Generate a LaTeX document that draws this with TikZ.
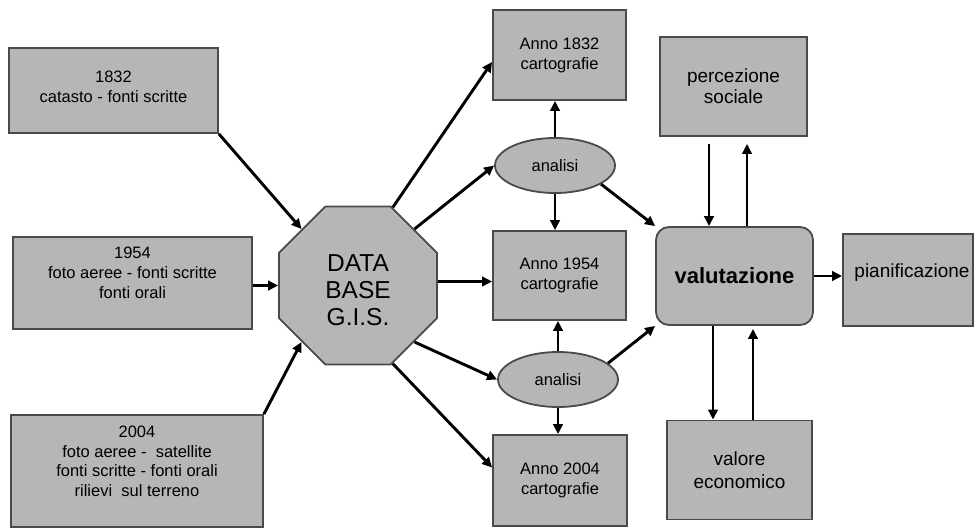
\documentclass[tikz,border=0pt]{standalone}
\usepackage{fontspec}
\setmainfont{Liberation Sans}
\usetikzlibrary{shapes.geometric,arrows.meta}
\definecolor{boxfill}{HTML}{B6B6B6}
\definecolor{boxline}{HTML}{4A4A4A}
\begin{document}
\begin{tikzpicture}[x=1pt,y=-1pt,
  box/.style={draw=boxline,fill=boxfill,line width=1.8pt,inner sep=0pt,align=center,
    font=\fontsize{16.5}{20}\selectfont},
  txt/.style={inner sep=0pt,align=center,font=\fontsize{16.5}{20}\selectfont},
  oval/.style={ellipse,draw=boxline,fill=boxfill,line width=1.8pt,inner sep=0pt,
    minimum width=120pt,minimum height=55pt,font=\fontsize{16.5}{20}\selectfont},
  arr/.style={line width=2.9pt,-{Triangle[length=10pt,width=9.5pt]}}]
\useasboundingbox (0,0) rectangle (977,528);
\fill[white] (0,0) rectangle (977,528);
% left source boxes
\node[box,minimum width=209pt,minimum height=85pt] (b1832) at (113.5,90.5) {};
\node[txt] (t1832) at (113.5,87) {1832\\catasto - fonti scritte};
\node[box,minimum width=239pt,minimum height=92pt] (b1954) at (132.5,283) {};
\node[txt] (t1954) at (132.5,273) {1954\\foto aeree - fonti scritte\\fonti orali};
\node[box,minimum width=252pt,minimum height=112pt] (b2004) at (137,471) {};
\node[txt,font=\fontsize{16.5}{19.5}\selectfont] (t2004) at (137,461.5) {2004\\foto aeree -\ \ satellite\\fonti scritte - fonti orali\\rilievi\ \ sul terreno};
% database octagon
\node[regular polygon,regular polygon sides=8,minimum size=171pt,draw=boxline,fill=boxfill,
  line width=1.8pt,inner sep=0pt] (db) at (358,285.5) {};
\node[txt,font=\fontsize{24.5}{27}\selectfont] (dbt) at (358,290) {DATA\\BASE\\G.I.S.};
% map boxes
\node[box,minimum width=133pt,minimum height=90pt] (a1832) at (559.5,55) {Anno 1832\\cartografie};
\node[box,minimum width=133pt,minimum height=89pt] (a1954) at (559.5,275.5) {Anno 1954\\cartografie};
\node[box,minimum width=134pt,minimum height=91pt] (a2004) at (560,480.5) {Anno 2004\\cartografie};
% analysis ellipses
\node[oval] (an1) at (555,165.5) {analisi};
\node[oval] (an2) at (558,379.5) {analisi};
% right side
\node[box,minimum width=147pt,minimum height=99pt,font=\fontsize{19}{21}\selectfont] (perc) at (733.5,86.5) {percezione\\sociale};
\node[box,rounded corners=13pt,minimum width=157pt,minimum height=98pt,font=\fontsize{22}{26}\selectfont\bfseries] (val) at (734.5,276) {valutazione};
\node[box,minimum width=130pt,minimum height=92pt] (plan) at (908,280) {};
\node[txt,font=\fontsize{19}{22}\selectfont] (plant) at (912,273) {pianificazione};
\node[box,minimum width=145pt,minimum height=99pt,font=\fontsize{19}{23}\selectfont] (valo) at (739.5,470) {valore\\economico};
% connectors into database
\draw[arr] (b1832.south east) -- (db.135);
\draw[arr] (b1954.east |- db.west) -- (db.west);
\draw[arr] (b2004.north east) -- (db.225);
% database out
\draw[arr] (db.66) -- ([yshift=-7pt]a1832.west);
\draw[arr] (db.45) -- (an1.west);
\draw[arr] ([yshift=4pt]db.east) -- ([yshift=4pt]db.east -| a1954.west);
\draw[arr] (db.-45) -- (an2.west);
\draw[arr] (db.-66) -- ([yshift=13pt]a2004.west);
% analysis to maps
\draw[arr] (an1.north) -- (an1.north |- a1832.south);
\draw[arr] (an1.south) -- (an1.south |- a1954.north);
\draw[arr] (an2.north) -- (an2.north |- a1954.south);
\draw[arr] (an2.south) -- (an2.south |- a2004.north);
% analysis to evaluation
\draw[arr] (an1.-22) -- (val.north west);
\draw[arr] (an2.18) -- (val.south west);
% evaluation links
\draw[arr] ([xshift=-24.5pt,yshift=-7pt]perc.south) -- ([xshift=-24.5pt]perc.south |- val.north);
\draw[arr] ([xshift=13.5pt]perc.south |- val.north) -- ([xshift=13.5pt,yshift=-7pt]perc.south);
\draw[arr] ([xshift=-26.5pt]valo.north |- val.south) -- ([xshift=-26.5pt]valo.north);
\draw[arr] ([xshift=13.5pt]valo.north) -- ([xshift=13.5pt,yshift=-3pt]valo.north |- val.south);
\draw[arr] (val.east) -- (val.east -| plan.west);
\end{tikzpicture}
\end{document}
